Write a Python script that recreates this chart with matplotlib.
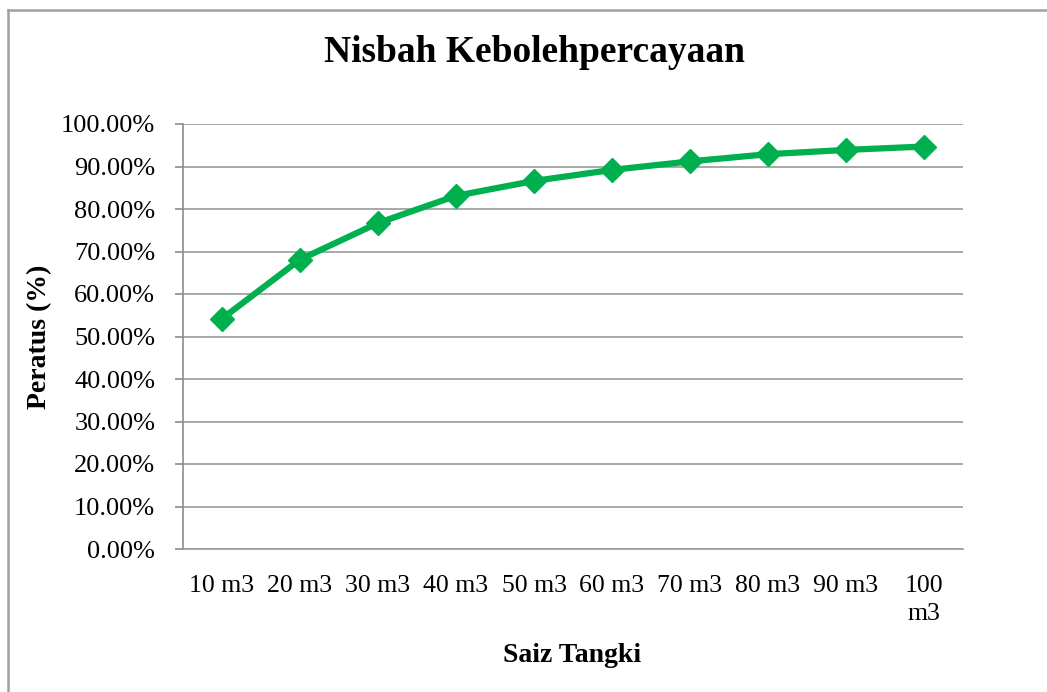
import matplotlib
matplotlib.use("Agg")
from matplotlib import pyplot as plt
from matplotlib.lines import Line2D
import numpy as np

# data
sizes = ['10 m3', '20 m3', '30 m3', '40 m3', '50 m3', '60 m3', '70 m3', '80 m3', '90 m3', '100\nm3']
ratio = [0.542, 0.681, 0.767, 0.831, 0.866, 0.892, 0.912, 0.929, 0.939, 0.947]
yticks = [0.0, 0.1, 0.2, 0.3, 0.4, 0.5, 0.6, 0.7, 0.8, 0.9, 1.0]

plt.rcParams['font.family'] = ['Liberation Serif', 'DejaVu Serif']

fig = plt.figure(figsize=(10.47, 6.92), dpi=100)
ax = fig.add_axes([183/1047, 1 - 549/692, 780/1047, 425/692])

x = np.arange(len(sizes))
ax.plot(x, ratio, color='#00b04f', linewidth=4.5, marker='D', markersize=12,
        markeredgecolor='#00b04f', markerfacecolor='#00b04f', zorder=3)

ax.set_xlim(-0.5, len(sizes) - 0.5)
ax.set_ylim(0, 1.0)
ax.set_yticks(yticks)
ax.set_yticklabels([f'{v*100:.2f}%' for v in yticks], fontsize=19)
ax.set_xticks(x)
ax.set_xticklabels(sizes, fontsize=18.5, linespacing=1.35, va='top')
ax.tick_params(axis='x', length=0, pad=19)
ax.tick_params(axis='y', length=6, width=1.2, color='#8c8c8c', pad=14)

ax.grid(axis='y', color='#9a9a9a', linewidth=1.2)
ax.set_axisbelow(True)
for side in ['top', 'right']:
    ax.spines[side].set_visible(False)
ax.spines['left'].set_color('#8c8c8c')
ax.spines['left'].set_linewidth(1.2)
ax.spines['bottom'].set_color('#9a9a9a')
ax.spines['bottom'].set_linewidth(1.2)

fig.text(535/1047, 1 - 53/692, 'Nisbah Kebolehpercayaan', ha='center', va='center',
         fontsize=27, fontweight='bold')
fig.text(572/1047, 1 - 656/692, 'Saiz Tangki', ha='center', va='center',
         fontsize=20, fontweight='bold')
fig.text(40/1047, 1 - 337/692, 'Peratus (%)', ha='center', va='center',
         fontsize=20, fontweight='bold', rotation=90)

# outer chart border (top and left visible)
fig.add_artist(Line2D([8/1047, 1], [1 - 10/692, 1 - 10/692], transform=fig.transFigure,
                      color='#a0a0a0', linewidth=1.8))
fig.add_artist(Line2D([8/1047, 8/1047], [0, 1 - 10/692], transform=fig.transFigure,
                      color='#a0a0a0', linewidth=1.8))

fig.savefig('out.png', dpi=100)
